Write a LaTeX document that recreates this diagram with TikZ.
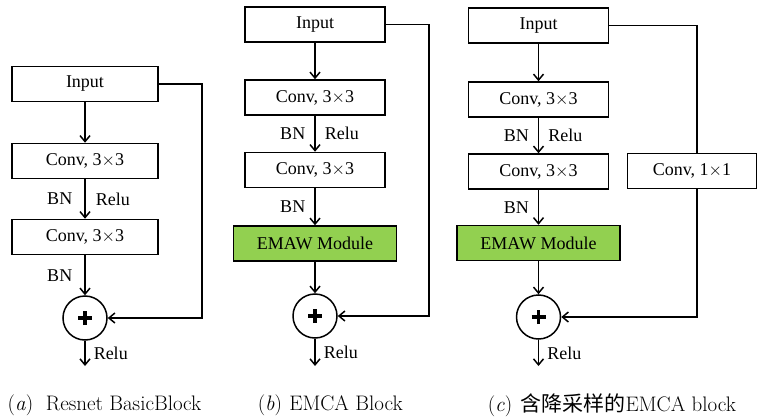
\documentclass[tikz,border=0pt]{standalone}
\usepackage{fontspec}
\usepackage{tikz}
\usetikzlibrary{arrows.meta}
\newfontfamily\tnrfont{Liberation Serif}
\newfontfamily\cjkfont{Noto Sans CJK SC}
\definecolor{emawgreen}{RGB}{146,208,80}

\begin{document}
\begin{tikzpicture}[
			x = 1pt, y = -1pt,
			line width = 1.5pt,
			>={Straight Barb[length=6pt,width=10pt]},
			every node/.style = {font=\tnrfont\fontsize{18}{20}\selectfont},
			blk/.style = {draw, rectangle, inner sep=0pt, minimum height=35pt},
			emaw/.style = {blk, fill=emawgreen, minimum width=163pt},
			addop/.style = {draw, circle, inner sep=0pt, minimum size=44pt,
				path picture={\draw[line width=3.6pt] (path picture bounding box.center) +(-7pt,0pt) -- +(7pt,0pt) +(0pt,-7pt) -- +(0pt,7pt);}},
			lbl/.style = {inner sep=0pt},
			capnode/.style = {font=\fontsize{21}{24}\selectfont, anchor=west, inner sep=0pt}
			]

			\useasboundingbox (0,0) rectangle (757,417);

			% (a) Resnet BasicBlock
			\node[blk, minimum width=146pt] (ina) at (85,84) {Input};
			\node[blk, minimum width=146pt] (c1a) at (85,161) {Conv, 3$\times$3};
			\node[blk, minimum width=146pt] (c2a) at (85,237) {Conv, 3$\times$3};
			\node[addop] (adda) at (85,318) {};
			\coordinate (enda) at (85,366);
			\coordinate (ra) at (202,0);

			\draw[->] (ina) -- (c1a);
			\draw[->] (c1a) -- node[lbl,left=12pt]{BN} node[lbl,right=10pt]{Relu} (c2a);
			\draw[->] (c2a) -- node[lbl,left=12pt]{BN} (adda);
			\draw[->] (adda) -- node[lbl,right=8pt]{Relu} (enda);
			\draw[->] (ina.east) -- (ina.east -| ra) |- (adda.east);

			% (b) EMCA Block
			\node[blk, minimum width=140pt] (inb) at (315,24.5) {Input};
			\node[blk, minimum width=140pt] (c1b) at (315,97.5) {Conv, 3$\times$3};
			\node[blk, minimum width=140pt] (c2b) at (315,170) {Conv, 3$\times$3};
			\node[emaw] (emb) at (315,243.5) {EMAW Module};
			\node[addop] (addb) at (315,316) {};
			\coordinate (endb) at (315,366);
			\coordinate (rb) at (429,0);

			\draw[->] (inb) -- (c1b);
			\draw[->] (c1b) -- node[lbl,left=9pt]{BN} node[lbl,right=9pt]{Relu} (c2b);
			\draw[->] (c2b) -- node[lbl,left=9pt]{BN} (emb);
			\draw[->] (emb) -- (addb);
			\draw[->] (addb) -- node[lbl,right=8pt]{Relu} (endb);
			\draw[->] (inb.east) -- (inb.east -| rb) |- (addb.east);

			% (c) EMCA block with downsampling
			\node[blk, minimum width=140pt] (inc) at (538.5,25.5) {Input};
			\node[blk, minimum width=140pt] (c1c) at (538.5,99.5) {Conv, 3$\times$3};
			\node[blk, minimum width=140pt] (c2c) at (538.5,171.5) {Conv, 3$\times$3};
			\node[emaw] (emc) at (538.5,243) {EMAW Module};
			\node[addop] (addc) at (538.5,317) {};
			\node[blk, minimum width=129pt] (dsc) at (692,171) {Conv, 1$\times$1};
			\coordinate (endc) at (538.5,366);
			\coordinate (rc) at (697,0);

			\draw[->] (inc) -- (c1c);
			\draw[->] (c1c) -- node[lbl,left=9pt]{BN} node[lbl,right=9pt]{Relu} (c2c);
			\draw[->] (c2c) -- node[lbl,left=9pt]{BN} (emc);
			\draw[->] (emc) -- (addc);
			\draw[->] (addc) -- node[lbl,right=8pt]{Relu} (endc);
			\draw (inc.east) -| (rc |- dsc.north);
			\draw[->] (rc |- dsc.south) |- (addc.east);

			% captions
			\node[capnode] (capa) at (7,405) {(\textit{a})\hspace{0.6em}Resnet BasicBlock};
			\node[capnode] (capb) at (257,405) {(\textit{b})\hspace{0.35em}EMCA Block};
			\node[capnode] (capc) at (487,405) {(\textit{c})\hspace{0.4em}{\cjkfont 含降采样的}EMCA block};

		\end{tikzpicture}
\end{document}
